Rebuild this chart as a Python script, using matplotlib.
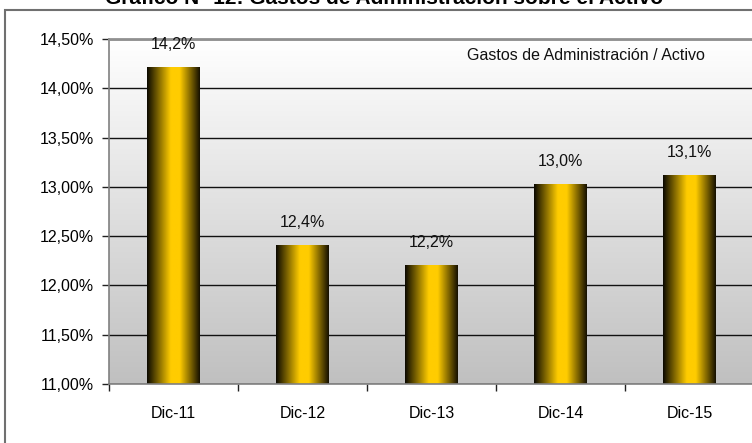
import numpy as np
import matplotlib.pyplot as plt
from matplotlib.colors import LinearSegmentedColormap
from matplotlib.patches import Rectangle
from matplotlib.ticker import FixedLocator

# data
categories = ["Dic-11", "Dic-12", "Dic-13", "Dic-14", "Dic-15"]
values = [14.22, 12.41, 12.21, 13.03, 13.12]
value_labels = ["14,2%", "12,4%", "12,2%", "13,0%", "13,1%"]
y_ticks = [11.0, 11.5, 12.0, 12.5, 13.0, 13.5, 14.0, 14.5]
y_tick_labels = ["11,00%", "11,50%", "12,00%", "12,50%", "13,00%", "13,50%", "14,00%", "14,50%"]

title = "Gráfico N° 12: Gastos de Administración sobre el Activo"
series_name = "Gastos de Administración / Activo"

plt.rcParams['font.family'] = ['Liberation Sans', 'DejaVu Sans']

W, H = 752, 443
fig = plt.figure(figsize=(W / 100, H / 100), dpi=100)
ax = fig.add_axes([109 / W, 59 / H, 645 / W, 345 / H])

x = np.arange(len(categories))
ymin, ymax = y_ticks[0], y_ticks[-1]
xlo, xhi = -0.5, len(categories) - 0.5

# plot area background: white at top fading to grey
bg_cmap = LinearSegmentedColormap.from_list("bg", ["#ffffff", "#c0c0c0"])
ax.imshow(np.linspace(0, 1, 256).reshape(-1, 1), extent=[xlo, xhi, ymin, ymax],
          aspect='auto', cmap=bg_cmap, zorder=0, interpolation='bilinear')

# bars, filled with a horizontal dark-gold-dark gradient
bar_cmap = LinearSegmentedColormap.from_list(
    "gold", [(0.0, "#0a0800"), (0.45, "#ffcc00"), (0.62, "#ffcc00"), (1.0, "#140f00")])
bars = ax.bar(x, values, width=0.41, color='none', edgecolor='none', zorder=2)
grad = np.linspace(0, 1, 256).reshape(1, -1)
for b in bars:
    bx = b.get_x()
    im = ax.imshow(grad, extent=[bx, bx + b.get_width(), ymin, b.get_height()],
                   aspect='auto', cmap=bar_cmap, zorder=2, interpolation='bilinear')
    im.set_clip_path(b)

for xi, v, lab in zip(x, values, value_labels):
    ax.annotate(lab, (xi, v), xytext=(0, 16), textcoords='offset points',
                ha='center', va='center', fontsize=11.5, color='#111111')

ax.set_xlim(xlo, xhi)
ax.set_ylim(ymin, ymax)

# gridlines
ax.set_axisbelow(True)
ax.yaxis.grid(True, color='#111111', linewidth=1, zorder=1)
ax.set_yticks(y_ticks)
ax.set_yticklabels(y_tick_labels, fontsize=11.5)
ax.tick_params(axis='y', length=5, width=1, color='#222222', pad=6)

ax.set_xticks(x)
ax.set_xticklabels(categories, fontsize=11.5)
ax.xaxis.set_minor_locator(FixedLocator(np.arange(xlo, xhi + 0.01, 1.0)))
ax.tick_params(axis='x', which='major', length=0, pad=16)
ax.tick_params(axis='x', which='minor', length=5, width=1, color='#222222')

for side in ['left', 'bottom']:
    ax.spines[side].set_color('#808080')
    ax.spines[side].set_linewidth(1.2)
ax.spines['top'].set_color('#909090')
ax.spines['top'].set_linewidth(2)
ax.spines['right'].set_visible(False)

# series name in place of a legend
fig.text(467 / W, 1 - 56 / H, series_name, ha='left', va='center', fontsize=11.5, color='#111111')

# title, cut at the top edge as in the original
fig.text(384 / W, 1 - 4 / H, title, ha='center', va='baseline', fontsize=15, weight='bold')

# outer chart border
fig.patches.append(Rectangle((5 / W, -0.1), 1.2, 1 - 10 / H + 0.1, transform=fig.transFigure,
                             fill=False, edgecolor='#707070', linewidth=1.5))

fig.savefig("out.png", dpi=100)
